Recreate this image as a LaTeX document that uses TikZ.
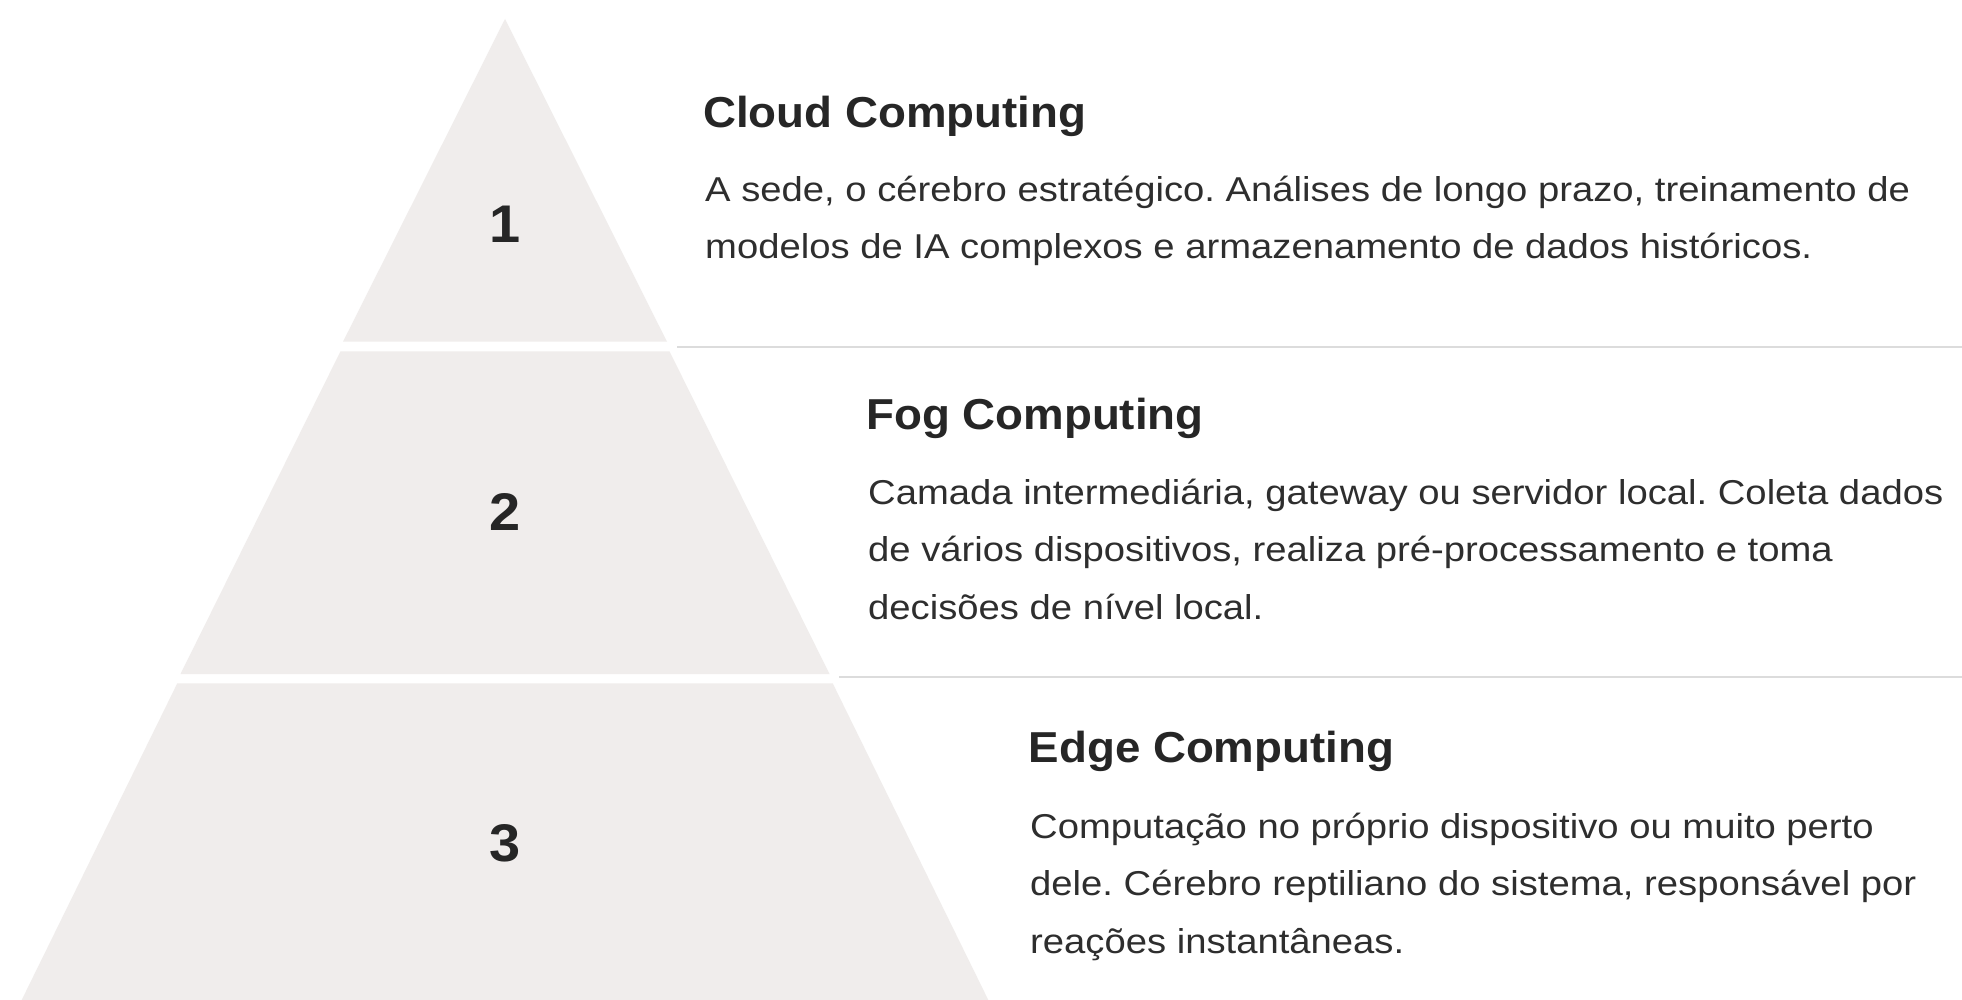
\documentclass[tikz,border=0pt]{standalone}
\usepackage{fontspec}
\newfontfamily\bodyfont[FakeStretch=1.108]{Liberation Sans}
\newfontfamily\headfont[FakeStretch=1.055]{Liberation Sans}
\frenchspacing
\definecolor{tierfill}{HTML}{F0EDEC}
\definecolor{inkdark}{HTML}{262626}
\definecolor{inkbody}{HTML}{2E2E2E}
\definecolor{rulegray}{HTML}{DCDCDC}
\tikzset{
  tier/.style={fill=tierfill, draw=none},
  tiernum/.style={anchor=base, inner sep=0pt, text=inkdark,
    font={\headfont\bfseries\fontsize{53}{60}\selectfont}},
  heading/.style={anchor=base west, inner sep=0pt, text=inkdark,
    font={\headfont\bfseries\fontsize{43.3}{50}\selectfont}},
  bodytext/.style={anchor=north west, inner sep=0pt, align=left, text=inkbody,
    font={\bodyfont\frenchspacing\fontsize{34.5}{57.5}\selectfont}},
  divider/.style={draw=rulegray, line width=2pt}
}
% first-line strut so the north anchor sits a fixed 36pt above the first baseline
\newcommand{\firststrut}{\rule{0pt}{36pt}}
\begin{document}
\begin{tikzpicture}[x=1pt, y=-1pt]
  \useasboundingbox (0,0) rectangle (1962,1000);
  \fill[white] (0,0) rectangle (1962,1000);

  % pyramid tiers
  \path[tier] (505,19) -- (667,341.7) -- (343,341.7) -- cycle;
  \path[tier] (340.5,351.3) -- (669.5,351.3) -- (829.5,674) -- (180.5,674) -- cycle;
  \path[tier] (177.3,683.3) -- (832.7,683.3) -- (988.3,1000) -- (21.7,1000) -- cycle;

  % tier numbers
  \node[tiernum] (n1) at (505,242.5) {1};
  \node[tiernum] (n2) at (505,530) {2};
  \node[tiernum] (n3) at (505,861.5) {3};

  % dividers between the descriptions
  \coordinate (d1a) at (677,347.3);
  \coordinate (d1b) at (1962,347.3);
  \coordinate (d2a) at (839,677.3);
  \coordinate (d2b) at (1962,677.3);
  \draw[divider] (d1a) -- (d1b);
  \draw[divider] (d2a) -- (d2b);

  % Cloud
  \node[heading] (h1) at (703,127.5) {Cloud Computing};
  \node[bodytext] (b1) at (705,165) {\firststrut A sede, o cérebro estratégico. Análises de longo prazo, treinamento de\\
    modelos de IA complexos e armazenamento de dados históricos.};

  % Fog
  \node[heading] (h2) at (866,429.5) {Fog Computing};
  \node[bodytext] (b2) at (868,468) {\firststrut Camada intermediária, gateway ou servidor local. Coleta dados\\
    de vários dispositivos, realiza pré-processamento e toma\\
    decisões de nível local.};

  % Edge
  \node[heading] (h3) at (1028.5,762.5) {Edge Computing};
  \node[bodytext] (b3) at (1030,802) {\firststrut Computação no próprio dispositivo ou muito perto\\
    dele. Cérebro reptiliano do sistema, responsável por\\
    reações instantâneas.};
\end{tikzpicture}
\end{document}
